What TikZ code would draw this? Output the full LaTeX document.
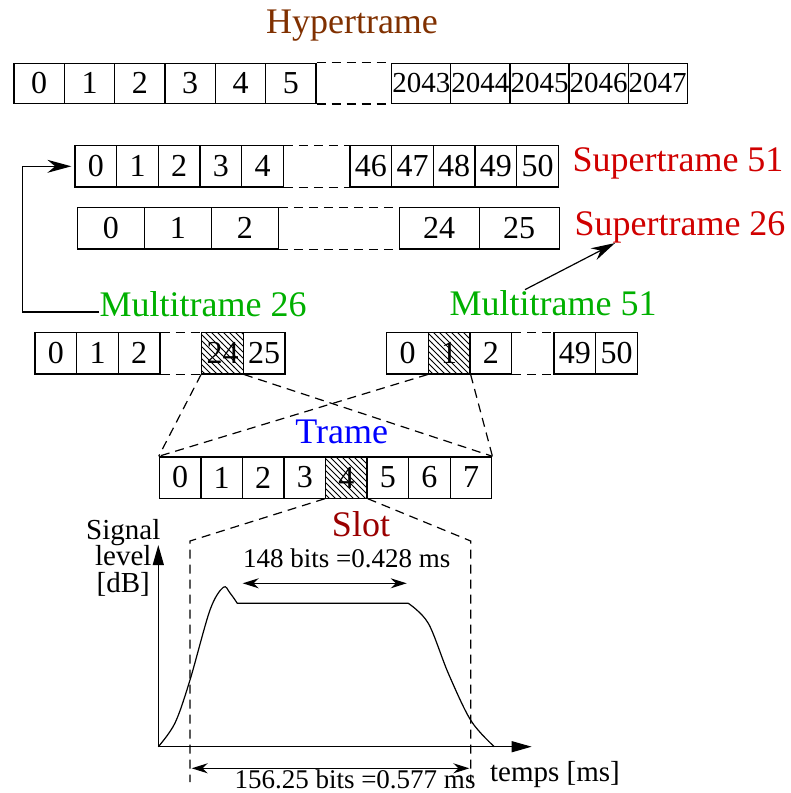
\documentclass[tikz,border=0pt]{standalone}
\usepackage{fontspec}
\setmainfont{Liberation Serif}
\usetikzlibrary{arrows.meta, positioning, patterns}
\definecolor{gsmbrown}{HTML}{803000}
\definecolor{gsmred}{HTML}{D00000}
\definecolor{gsmgreen}{HTML}{00B000}
\definecolor{gsmblue}{HTML}{0000FF}
\definecolor{gsmdark}{HTML}{9A0000}

\begin{document}
\begin{tikzpicture}[
  x=0.5pt, y=-0.5pt,
  every node/.style={font=\fontsize{16}{18}\selectfont},
  cell/.style={rectangle, draw, line width=0.6pt, inner sep=0pt, minimum width=20.83pt, minimum height=20.6pt},
  hcell/.style={cell, minimum width=25.17pt, minimum height=20pt},
  wcell/.style={cell, minimum width=29.55pt, minimum height=20pt, font=\fontsize{14.5}{16}\selectfont},
  bcell/.style={cell, minimum width=33.5pt},
  bwcell/.style={cell, minimum width=40pt},
  hatched/.style={pattern=north west lines},
  gap/.style={line width=0.6pt, dash pattern=on 4.5pt off 3pt},
  title/.style={inner sep=0pt, anchor=base, font=\fontsize{18}{21}\selectfont},
  small/.style={inner sep=0pt, anchor=base, font=\fontsize{13.5}{15}\selectfont},
  arr/.style={line width=0.6pt, -{Stealth[length=12pt, width=6.5pt]}},
  dim/.style={line width=0.6pt, {Stealth[length=8pt, width=5pt]}-{Stealth[length=8pt, width=5pt]}},
  axis/.style={line width=0.6pt, -{Triangle[length=10pt, width=5.5pt]}},
]
\useasboundingbox (0,0) rectangle (791,793);

% Hypertrame
\node[title, text=gsmbrown] (hyp) at (352, 33.3) {Hypertrame};
\node[hcell] (h0) at (39.2, 83.4) {0};
\node[hcell] (h1) at (89.5, 83.4) {1};
\node[hcell] (h2) at (139.8, 83.4) {2};
\node[hcell] (h3) at (190.2, 83.4) {3};
\node[hcell] (h4) at (240.5, 83.4) {4};
\node[hcell] (h5) at (290.8, 83.4) {5};
\node[wcell] (h2043) at (421.3, 83.4) {2043};
\node[wcell] (h2044) at (480.4, 83.4) {2044};
\node[wcell] (h2045) at (539.5, 83.4) {2045};
\node[wcell] (h2046) at (598.6, 83.4) {2046};
\node[wcell] (h2047) at (657.7, 83.4) {2047};
\draw[gap] (h5.north east) -- (h2043.north west) (h5.south east) -- (h2043.south west);

% Supertrame 51
\node[cell] (sa0) at (95.8, 166.3) {0};
\node[cell] (sa1) at (137.5, 166.3) {1};
\node[cell] (sa2) at (179.2, 166.3) {2};
\node[cell] (sa3) at (220.8, 166.3) {3};
\node[cell] (sa4) at (262.5, 166.3) {4};
\node[cell] (sa46) at (370.8, 166.3) {46};
\node[cell] (sa47) at (412.5, 166.3) {47};
\node[cell] (sa48) at (454.2, 166.3) {48};
\node[cell] (sa49) at (495.8, 166.3) {49};
\node[cell] (sa50) at (537.5, 166.3) {50};
\draw[gap] (sa4.north east) -- (sa46.north west) (sa4.south east) -- (sa46.south west);
\node[title, text=gsmred] (st51) at (678, 171.7) {Supertrame 51};

% Supertrame 26
\node[bcell] (sb0) at (110.8, 228.3) {0};
\node[bcell] (sb1) at (177.8, 228.3) {1};
\node[bcell] (sb2) at (244.8, 228.3) {2};
\node[bwcell] (sb24) at (439.2, 228.3) {24};
\node[bwcell] (sb25) at (519.2, 228.3) {25};
\draw[gap] (sb2.north east) -- (sb24.north west) (sb2.south east) -- (sb24.south west);
\node[title, text=gsmred] (st26) at (680, 235) {Supertrame 26};

% Multitrame 26
\node[title, text=gsmgreen] (mt26) at (203, 316) {Multitrame 26};
\node[cell] (ma0) at (55.8, 353.3) {0};
\node[cell] (ma1) at (97.5, 353.3) {1};
\node[cell] (ma2) at (139.2, 353.3) {2};
\node[cell, hatched] (ma24) at (222.5, 353.3) {24};
\node[cell] (ma25) at (264.2, 353.3) {25};
\draw[gap] (ma2.north east) -- (ma24.north west) (ma2.south east) -- (ma24.south west);

% Multitrame 51
\node[title, text=gsmgreen] (mt51) at (553, 315) {Multitrame 51};
\node[cell] (mb0) at (407.5, 353.3) {0};
\node[cell, hatched] (mb1) at (449.2, 353.3) {1};
\node[cell] (mb2) at (490.8, 353.3) {2};
\node[cell] (mb49) at (574.8, 353.3) {49};
\node[cell] (mb50) at (616.5, 353.3) {50};
\draw[gap] (mb2.north east) -- (mb49.north west) (mb2.south east) -- (mb49.south west);

% Links between levels
\draw[arr, shorten >=1.5pt] ([yshift=2pt]mt26.base west) -| ([xshift=-26pt]sa0.west) -- (sa0.west);
\draw[arr] ([xshift=-14pt]mt51.north) -- ([xshift=-32.5pt]st26.south);

% Trame
\node[title, text=gsmblue] (tr) at (341.7, 443.3) {Trame};
\node[cell] (t0) at (180.1, 477.5) {0};
\node[cell] (t1) at (221.7, 477.5) {1};
\node[cell] (t2) at (263.2, 477.5) {2};
\node[cell] (t3) at (304.8, 477.5) {3};
\node[cell, hatched] (t4) at (346.3, 477.5) {4};
\node[cell] (t5) at (387.9, 477.5) {5};
\node[cell] (t6) at (429.4, 477.5) {6};
\node[cell] (t7) at (471.0, 477.5) {7};
\draw[gap] (ma24.south west) -- (t0.north west);
\draw[gap] (ma24.south east) -- (t7.north east);
\draw[gap] (mb1.south west) -- (t0.north west);
\draw[gap] (mb1.south east) -- (t7.north east);

% Slot
\node[title, text=gsmdark] (slot) at (361, 536.7) {Slot};
\coordinate (slottl) at (190, 541);
\coordinate (slotbl) at (190, 782);
\coordinate (slottr) at (470.7, 541);
\coordinate (slotbr) at (470.7, 782);
\draw[gap] (t4.south west) -- (slottl) -- (slotbl);
\draw[gap] (t4.south east) -- (slottr) -- (slotbr);

% Axes
\coordinate (orig) at (158.3, 746.7);
\coordinate (ytip) at (158.3, 545);
\coordinate (xtip) at (531.7, 746.7);
\draw[axis] (orig) -- (ytip);
\draw[axis] (orig) -- (xtip);
\node[inner sep=0pt, align=center, font=\fontsize{14.5}{13.3}\selectfont] (ylab) at (123.3, 557.5) {Signal\\level\\{[dB]}};
\node[inner sep=0pt, anchor=base, font=\fontsize{14.5}{16}\selectfont] (xlab) at (555, 781.7) {temps [ms]};

% Burst
\draw[line width=0.6pt] plot[smooth, tension=0.55] coordinates {(158.3,746.7) (175,723) (190,680) (210,610) (223.3,587.3) (230,593) (237.3,603.3)}
  -- (408.3,603.3)
  plot[smooth, tension=0.55] coordinates {(408.3,603.3) (428.3,623.3) (448.3,673.3) (471,720.7) (494.3,746.7)};

% Durations
\coordinate (ua) at (242.7, 583.3);
\coordinate (ub) at (406.7, 583.3);
\draw[dim] (ua) -- (ub);
\node[small] (useful) at (346.7, 567.3) {148 bits =0.428 ms};
\coordinate (fa) at (191.7, 768.3);
\coordinate (fb) at (469.3, 768.3);
\draw[dim] (fa) -- (fb);
\node[small] (full) at (355, 788) {156.25 bits =0.577 ms};

\end{tikzpicture}
\end{document}
